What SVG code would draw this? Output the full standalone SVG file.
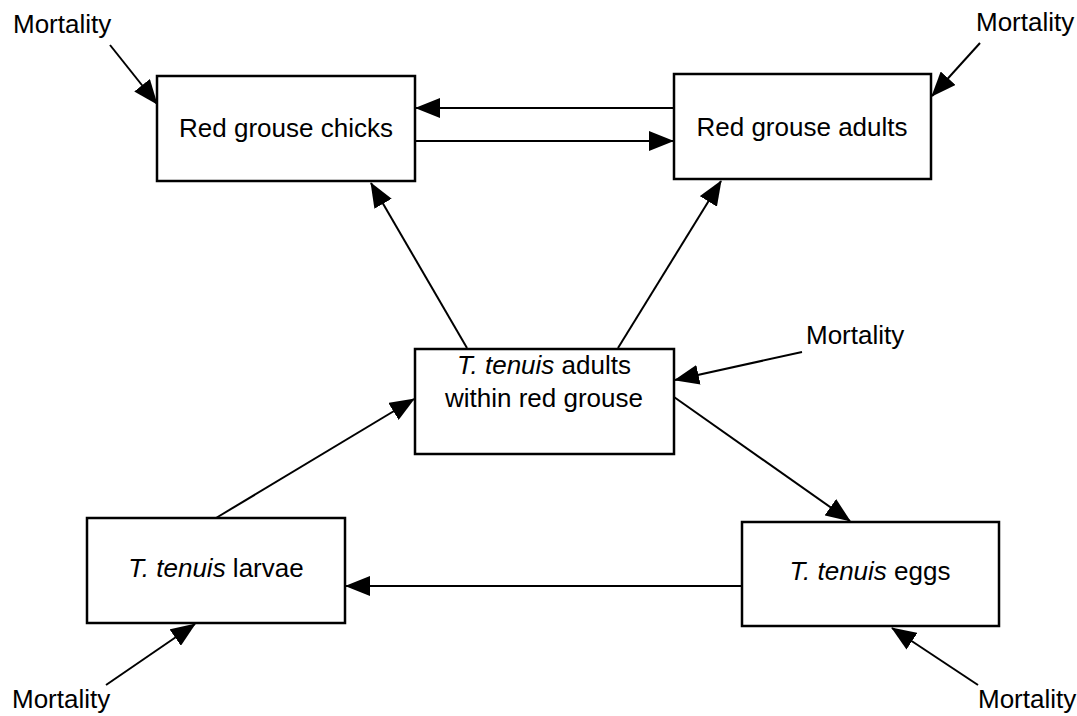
<svg xmlns="http://www.w3.org/2000/svg" width="1077" height="716" viewBox="0 0 1077 716">
<style>
.box{fill:#fff;stroke:#000;stroke-width:2.5}
.t{font-family:"Liberation Sans",Arial,sans-serif;font-size:26px;fill:#000}
.c{text-anchor:middle}
.i{font-style:italic}
.e{fill:none;stroke:#000;stroke-width:2;marker-end:url(#ah)}
</style>
<defs>
<marker id="ah" markerUnits="userSpaceOnUse" markerWidth="25" markerHeight="20" refX="24" refY="10" orient="auto">
<path d="M0,0 L25,10 L0,20 z" fill="#000"/>
</marker>
</defs>
<rect width="1077" height="716" fill="#fff"/>
<g id="connectors">
<line class="e" x1="674" y1="108" x2="416" y2="108"/>
<line class="e" x1="415" y1="141" x2="673" y2="141"/>
<line class="e" x1="467" y1="348" x2="371" y2="183"/>
<line class="e" x1="618" y1="348" x2="721" y2="181"/>
<line class="e" x1="742" y1="586" x2="346" y2="586"/>
<line class="e" x1="216" y1="518" x2="414" y2="399"/>
<line class="e" x1="674" y1="397" x2="850" y2="521"/>
<line class="e" x1="110" y1="45" x2="157" y2="104"/>
<line class="e" x1="980" y1="43" x2="932" y2="96"/>
<line class="e" x1="802" y1="352" x2="675" y2="380"/>
<line class="e" x1="106" y1="685" x2="195" y2="624"/>
<line class="e" x1="978" y1="685" x2="892" y2="628"/>
</g>
<g id="chicks">
<rect class="box" x="157" y="76" width="258" height="105"/>
<text class="t c" x="286" y="137">Red grouse chicks</text>
</g>
<g id="adults">
<rect class="box" x="674" y="74" width="257" height="105"/>
<text class="t c" x="802" y="136">Red grouse adults</text>
</g>
<g id="parasite-adults">
<rect class="box" x="415" y="349" width="259" height="105"/>
<text class="t c" x="544" y="374"><tspan class="i">T. tenuis</tspan> adults</text>
<text class="t c" x="544" y="407">within red grouse</text>
</g>
<g id="larvae">
<rect class="box" x="87" y="518" width="258" height="105"/>
<text class="t c" x="216" y="577"><tspan class="i">T. tenuis</tspan> larvae</text>
</g>
<g id="eggs">
<rect class="box" x="742" y="522" width="257" height="104"/>
<text class="t c" x="870" y="580"><tspan class="i">T. tenuis</tspan> eggs</text>
</g>
<g id="mortality-labels">
<text class="t" x="13" y="33">Mortality</text>
<text class="t" x="976" y="31">Mortality</text>
<text class="t" x="806" y="344">Mortality</text>
<text class="t" x="12" y="708">Mortality</text>
<text class="t" x="978" y="708">Mortality</text>
</g>
</svg>
